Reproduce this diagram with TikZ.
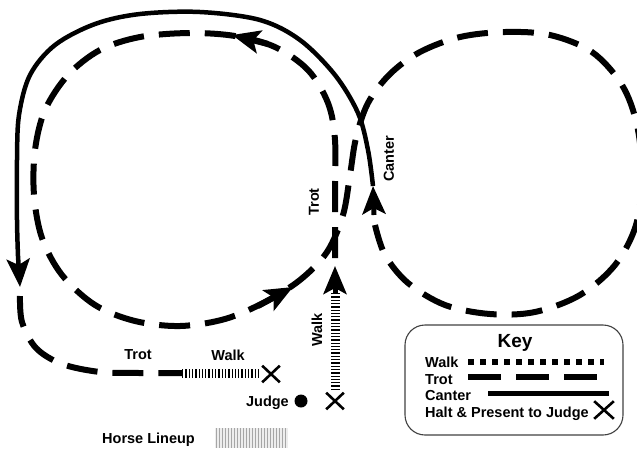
\documentclass[tikz,border=0pt]{standalone}
\usepackage{fontspec}
\setmainfont{Liberation Sans}
\usetikzlibrary{arrows.meta,shapes.misc}
\begin{document}
\begin{tikzpicture}[x=1pt,y=-1pt,
  trot/.style={line width=6pt, dash pattern=on 31pt off 15pt},
  canter/.style={line width=4.5pt},
  walkline/.style={line width=9pt, dash pattern=on 1.3pt off 2pt},
  lbl/.style={font=\fontsize{14.5}{16}\selectfont\bfseries, inner sep=0pt},
  halt/.style={cross out, draw, line width=2.6pt, minimum width=15pt, minimum height=14pt, inner sep=0pt},
  tipA/.style={-{Stealth[length=28pt,width=23pt,inset=6pt]}},
]
\useasboundingbox (0,0) rectangle (637,448);
\begin{scope}
\clip (0,0) rectangle (637,448);

% Horse lineup hatch
\fill[black!7] (215,428) rectangle (288,448);
\foreach \i in {0,...,23} {\draw[black!35, line width=0.6pt] ({216+3*\i},428) -- ({216+3*\i},448);}

% named points
\coordinate (walkstart) at (335,390);
\coordinate (walkend) at (335,293);
\coordinate (walktip) at (335,266);
\coordinate (cantertip) at (373,186);
\coordinate (canterend) at (18,256);
\coordinate (downtip) at (20,287);
\coordinate (finalwalk) at (182,373);
\coordinate (finalwalkend) at (259,373);

% Walk up from halt
\draw[walkline] (walkstart) -- (walkend);
\draw[line width=5pt, tipA] (walkend) -- (walktip);

% Trot figure eight
\draw[trot] plot[smooth, tension=0.55] coordinates {
 (335,258) (335,200) (335,140) (328,103) (308,70) (275,47) (235,36) (190,33)
 (140,37) (100,50) (68,75) (45,110) (35,150) (34,195) (42,238) (62,275)
 (95,305) (135,321) (180,326) (225,319) (265,302) (300,280) (327,252)
 (343,215) (350,175) (356,138) (368,103) (390,74) (420,52) (460,37)
 (505,32) (550,35) (592,52) (622,85) (637,125) (642,175) (636,225)
 (615,265) (580,295) (535,312) (490,314) (445,305) (408,283) (385,255)
 (375,225)};
% arrows on trot
\draw[line width=6pt, tipA] (268,44) -- (232,35);
\draw[line width=6pt, tipA] (258,306) -- (293,287);
\draw[line width=5pt, tipA] (374,215) -- (cantertip);

% Canter
\draw[canter] plot[smooth, tension=0.55] coordinates {
 (373,186) (368,150) (358,113) (335,75) (300,40) (260,20) (200,12)
 (140,14) (95,24) (55,45) (30,75) (19,115) (17,160) (17,220) (18,256)};
\draw[line width=4.5pt, tipA] (canterend) -- (downtip);

% Final trot and walk
\draw[trot] plot[smooth, tension=0.55] coordinates {
 (20,296) (22,322) (36,348) (62,364) (100,372) (140,373) (182,373)};
\draw[walkline] (finalwalk) -- (finalwalkend);
\end{scope}

% Halts
\node[halt] (haltA) at (271,374) {};
\node[halt] (haltB) at (335,401) {};

% Judge
\node[circle, fill, minimum size=13pt, inner sep=0pt] (judgedot) at (301,401) {};
\node[lbl, anchor=base east] (judge) at (289,406) {Judge};

% Course labels
\node[lbl] (ltrotA) at (138,355) {Trot};
\node[lbl] (lwalkA) at (228,355) {Walk};
\node[lbl, rotate=90] (ltrotB) at (314,202) {Trot};
\node[lbl, rotate=90] (lwalkB) at (317,330) {Walk};
\node[lbl, rotate=90] (lcanter) at (389,159) {Canter};

% Horse lineup
\node[lbl, anchor=base west] (lineup) at (102,443) {Horse Lineup};

% Key box
\node[draw=black!75, line width=1.1pt, rounded corners=20pt, minimum width=218pt, minimum height=110pt, inner sep=0pt] (keybox) at (514,380) {};
\node[font=\fontsize{19}{21}\selectfont\bfseries, inner sep=0pt, anchor=base] (keytitle) at (515,347) {Key};
\node[lbl, anchor=base west] (kwalk) at (425,367) {Walk};
\node[lbl, anchor=base west] (ktrot) at (425,384) {Trot};
\node[lbl, anchor=base west] (kcanter) at (425,400) {Canter};
\node[lbl, anchor=base west] (khalt) at (425,417) {Halt \& Present to Judge};
\coordinate (kw1) at (468,362); \coordinate (kw2) at (604,362);
\coordinate (kt1) at (468,377); \coordinate (kt2) at (600,377);
\coordinate (kc1) at (488,393); \coordinate (kc2) at (609,393);
\draw[line width=5.5pt, dash pattern=on 5.5pt off 6.5pt] (kw1) -- (kw2);
\draw[line width=5.5pt, dash pattern=on 33pt off 15pt] (kt1) -- (kt2);
\draw[line width=5pt] (kc1) -- (kc2);
\node[halt, minimum width=17pt, minimum height=15pt] (khaltx) at (604,410) {};
\end{tikzpicture}
\end{document}
